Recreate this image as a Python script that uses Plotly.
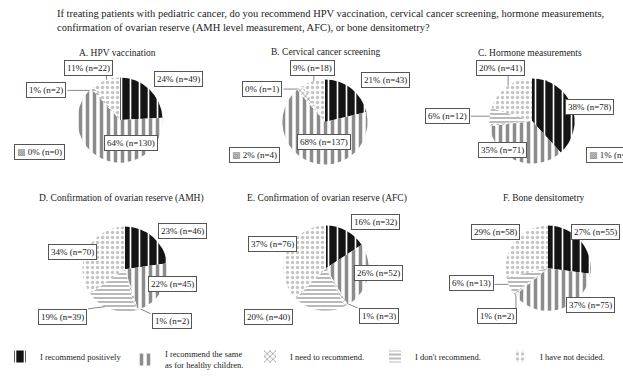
import math
import plotly.graph_objects as go

W, H = 623, 378
FONT = "Liberation Serif, Times New Roman, serif"
INK = "#222222"

# Answer categories (legend order)
categories = [
    "I recommend positively",
    "I recommend the same<br>as for healthy children.",
    "I need to recommend.",
    "I don't recommend.",
    "I have not decided.",
]

panel_titles = [
    "A. HPV vaccination",
    "B. Cervical cancer screening",
    "C. Hormone measurements",
    "D. Confirmation of ovarian reserve (AMH)",
    "E. Confirmation of ovarian reserve (AFC)",
    "F. Bone densitometry",
]

# Percent shares and respondent counts per item (category order as above)
pct_a = [24, 64, 0, 1, 11]
n_a = [49, 130, 0, 2, 22]
pct_b = [21, 68, 2, 0, 9]
n_b = [43, 137, 4, 1, 18]
pct_c = [38, 35, 1, 6, 20]
n_c = [78, 71, 2, 12, 41]
pct_d = [23, 22, 1, 19, 34]
n_d = [46, 45, 2, 39, 70]
pct_e = [16, 26, 1, 20, 37]
n_e = [32, 52, 3, 40, 76]
pct_f = [27, 37, 1, 6, 29]
n_f = [55, 75, 2, 13, 58]

pcts = [pct_a, pct_b, pct_c, pct_d, pct_e, pct_f]
counts = [n_a, n_b, n_c, n_d, n_e, n_f]

# Fill patterns for each answer category
fills = [
    dict(bg="#141414", shape="|", fg="#ffffff", size=9, solidity=0.18),
    dict(bg="#ffffff", shape="|", fg="#8c8c8c", size=7, solidity=0.5),
    dict(bg="#ffffff", shape="x", fg="#9a9a9a", size=4, solidity=0.35),
    dict(bg="#ffffff", shape="-", fg="#a8a8a8", size=4, solidity=0.4),
    dict(bg="#ffffff", shape=".", fg="#c4c4c4", size=5, solidity=0.35),
]

# Pie centres / radius in pixels
pie_centers = [(120, 124), (325, 126), (532, 125), (125, 278), (326, 277), (548, 277)]
R = 44
title_pos = [(117, 55), (325, 54), (530, 55), (121, 205), (327, 205), (544, 205)]

# Label boxes per panel: (centre x, centre y, leader line, legend icon)
label_boxes = [
    [(178, 82, False, False), (131, 148, False, False), (40, 157, False, True), (46, 93, True, False), (88, 70, True, False)],
    [(385, 83, False, False), (324, 147, False, False), (254, 160, False, True), (262, 92, True, False), (312, 70, True, False)],
    [(589, 110, False, False), (502, 155, False, False), (611, 160, False, True), (447, 120, True, False), (500, 70, True, False)],
    [(182, 239, False, False), (172, 293, False, False), (172, 332, True, False), (62, 327, True, False), (72, 260, False, False)],
    [(376, 229, False, False), (378, 282, False, False), (379, 326, True, False), (268, 327, False, False), (272, 252, False, False)],
    [(595, 240, False, False), (590, 315, False, False), (497, 326, True, False), (471, 292, True, False), (495, 240, False, False)],
]

ICON = "<span style='font-family:DejaVu Sans;color:#8a8a8a'>\u25a9</span> "


def px(x):
    return x / W


def py(y):
    return 1 - y / H


fig = go.Figure()
annotations = []
shapes = []

for k in range(6):
    cx, cy = pie_centers[k]
    fig.add_trace(go.Pie(
        labels=categories,
        values=counts[k],
        sort=False,
        direction="clockwise",
        rotation=0,
        textinfo="none",
        hoverinfo="label+value",
        marker=dict(
            colors=[f["bg"] for f in fills],
            line=dict(width=0),
            pattern=dict(
                shape=[f["shape"] for f in fills],
                fgcolor=[f["fg"] for f in fills],
                bgcolor=[f["bg"] for f in fills],
                size=[f["size"] for f in fills],
                solidity=[f["solidity"] for f in fills],
            ),
        ),
        domain=dict(x=[px(cx - R), px(cx + R)], y=[py(cy + R), py(cy - R)]),
        showlegend=(k == 0),
    ))

    tx, ty = title_pos[k]
    annotations.append(dict(
        x=px(tx), y=py(ty), xref="paper", yref="paper", text=panel_titles[k],
        showarrow=False, xanchor="center", yanchor="middle",
        font=dict(family=FONT, size=9.5, color=INK),
    ))

    total = sum(counts[k])
    cum = 0
    for j in range(5):
        frac = counts[k][j] / total
        mid = (cum + frac / 2) * 2 * math.pi
        cum += frac
        bx, by, leader, icon = label_boxes[k][j]
        text = f"{pcts[k][j]}% (n={counts[k][j]})"
        tw = len(text) * 4.6 + 6
        if icon:
            text = ICON + text
        annotations.append(dict(
            x=px(bx), y=py(by), xref="paper", yref="paper", text=text,
            showarrow=False, xanchor="center", yanchor="middle",
            bgcolor="#ffffff", bordercolor="#555555", borderwidth=1, borderpad=2,
            font=dict(family=FONT, size=9, color=INK),
        ))
        if leader:
            ex = cx + R * 0.92 * math.sin(mid)
            ey = cy - R * 0.92 * math.cos(mid)
            x0, x1 = bx - tw / 2, bx + tw / 2
            y0, y1 = by - 8, by + 8
            sx = min(max(ex, x0), x1)
            sy = min(max(ey, y0), y1)
            shapes.append(dict(
                type="line", xref="paper", yref="paper",
                x0=px(sx), y0=py(sy), x1=px(ex), y1=py(ey),
                line=dict(color="#888888", width=1),
                layer="below",
            ))

annotations.append(dict(
    x=px(55), y=py(22), xref="paper", yref="paper",
    text=("If treating patients with pediatric cancer, do you recommend HPV vaccination, "
          "cervical cancer screening, hormone measurements,<br>"
          "confirmation of ovarian reserve (AMH level measurement, AFC), or bone densitometry?"),
    showarrow=False, xanchor="left", yanchor="middle", align="left",
    font=dict(family=FONT, size=10.5, color=INK),
))

fig.update_layout(
    width=W, height=H,
    margin=dict(l=0, r=0, t=0, b=0),
    paper_bgcolor="#ffffff",
    plot_bgcolor="#ffffff",
    annotations=annotations,
    shapes=shapes,
    showlegend=True,
    legend=dict(
        orientation="h",
        x=px(10), y=py(372), xanchor="left", yanchor="middle",
        entrywidth=80, entrywidthmode="pixels",
        font=dict(family=FONT, size=8.5, color=INK),
        traceorder="normal",
        valign="middle",
        bgcolor="rgba(0,0,0,0)",
    ),
)

fig.write_html("out.html")
